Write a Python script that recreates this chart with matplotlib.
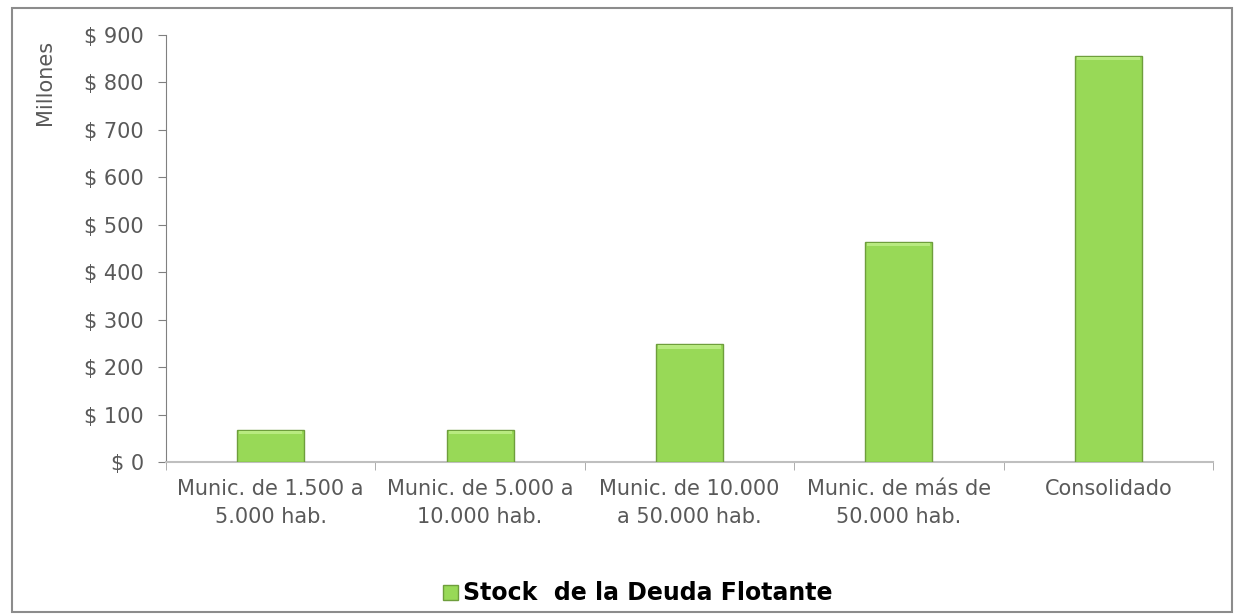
import numpy as np
import matplotlib.pyplot as plt
from matplotlib.patches import Rectangle

categories = ["Munic. de 1.500 a\n5.000 hab.", "Munic. de 5.000 a\n10.000 hab.",
              "Munic. de 10.000\na 50.000 hab.", "Munic. de más de\n50.000 hab.",
              "Consolidado"]
stock = [67, 67, 248, 464, 856]
yticks = [0, 100, 200, 300, 400, 500, 600, 700, 800, 900]
series_name = "Stock  de la Deuda Flotante"

plt.rcParams['font.family'] = ['DejaVu Sans']
gray = "#595959"

fig = plt.figure(figsize=(12.34, 6.14), dpi=100)
ax = fig.add_axes([166 / 1234, 1 - 462 / 614, (1213 - 166) / 1234, (462 - 35) / 614])

x = np.arange(len(categories))
bars = ax.bar(x, stock, width=0.32, color="#98D957", edgecolor="#6E9E3C", linewidth=1.0, zorder=3)
# light bevel on top of each bar
for b in bars:
    ax.add_patch(Rectangle((b.get_x() + 0.01, b.get_height() - 9), b.get_width() - 0.02, 7,
                           facecolor="#B8EA80", edgecolor="none", zorder=4))

ax.set_xlim(-0.5, len(categories) - 0.5)
ax.set_ylim(0, 900)
ax.set_yticks(yticks)
ax.set_yticklabels(["$ %d" % v for v in yticks], fontsize=15, color=gray)
ax.set_xticks(x)
ax.set_xticklabels(categories, fontsize=15, color=gray, linespacing=1.55)
ax.set_xticks(np.arange(len(categories) + 1) - 0.5, minor=True)
ax.tick_params(axis='x', which='major', length=0, pad=12)
ax.tick_params(axis='x', which='minor', length=6, color="#A0A0A0", direction='out')
ax.tick_params(axis='y', length=6, color="#808080", direction='out', pad=10)

for s in ["top", "right"]:
    ax.spines[s].set_visible(False)
ax.spines["left"].set_color("#808080")
ax.spines["bottom"].set_color("#BFBFBF")
ax.spines["bottom"].set_linewidth(1.5)

fig.text(45 / 1234, 1 - 82 / 614, "Millones", rotation=90, ha="center", va="center",
         fontsize=15, color=gray)

fig.patches.append(Rectangle((12 / 1234, 2 / 614), 1220 / 1234, 604 / 614, transform=fig.transFigure,
                             fill=False, edgecolor="#8C8C8C", linewidth=1.5))

# legend
fig.patches.append(Rectangle((443 / 1234, 1 - 600 / 614), 15 / 1234, 15 / 614, transform=fig.transFigure,
                             facecolor="#98D957", edgecolor="#6E9E3C", linewidth=1))
fig.text(463 / 1234, 1 - 593 / 614, series_name, ha="left", va="center",
         fontsize=17, fontweight="bold", color="black")

fig.savefig("out.png", dpi=100)
plt.close(fig)
